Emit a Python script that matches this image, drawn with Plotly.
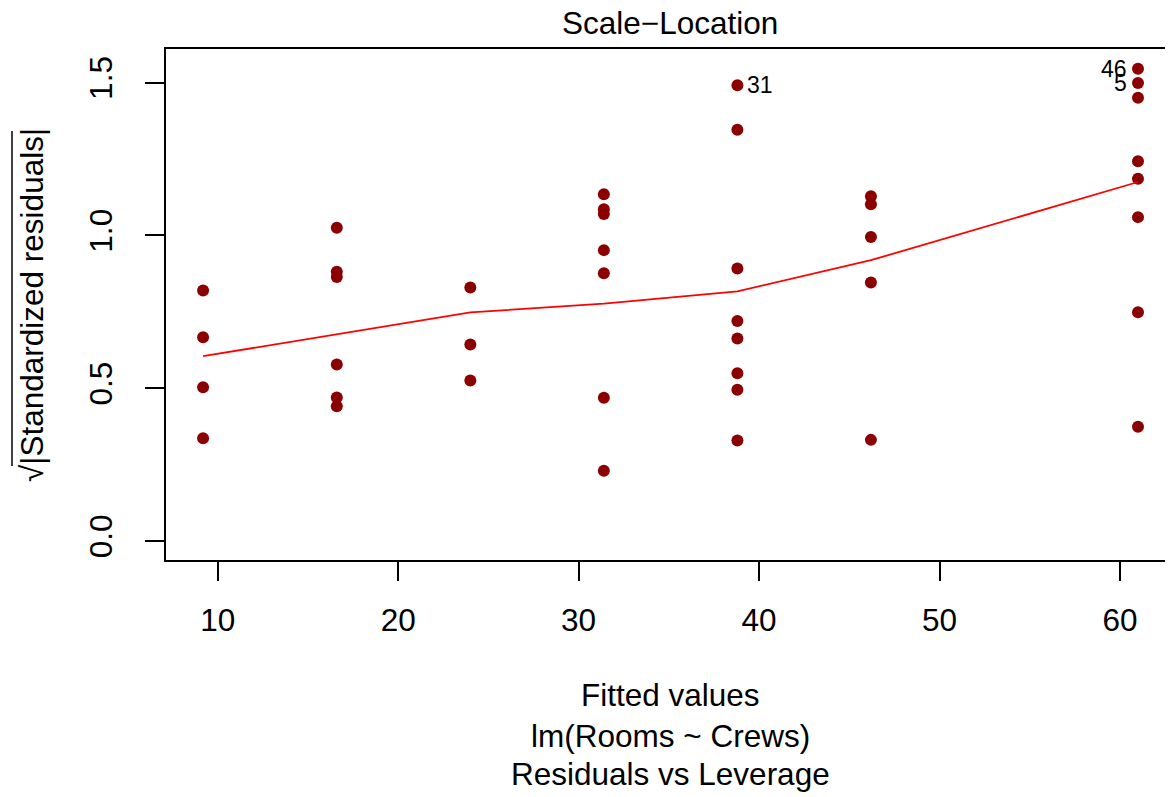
import plotly.graph_objects as go

# Fitted value levels (x) and sqrt|standardized residuals| (y) per level
fitted_levels = [9.19, 16.6, 24.0, 31.4, 38.8, 46.2, 61.0]
sqrt_resid = [
    [0.820, 0.667, 0.503, 0.336],
    [1.025, 0.881, 0.864, 0.578, 0.470, 0.441],
    [0.830, 0.643, 0.525],
    [1.135, 1.086, 1.070, 0.952, 0.876, 0.469, 0.230],
    [1.492, 1.346, 0.892, 0.720, 0.663, 0.549, 0.495, 0.329],
    [1.128, 1.102, 0.995, 0.846, 0.331],
    [1.546, 1.499, 1.451, 1.243, 1.186, 1.060, 0.749, 0.374],
]
smooth_y = [0.605, 0.676, 0.748, 0.777, 0.817, 0.919, 1.175]

# labelled points: (id, fitted, value, side)
id_labels = ["31", "46", "5"]
id_x = [38.8, 61.0, 61.0]
id_y = [1.492, 1.546, 1.499]
id_side = ["right", "left", "left"]

x_ticks = [10, 20, 30, 40, 50, 60]
y_ticks = [0.0, 0.5, 1.0, 1.5]
y_tick_text = ["0.0", "0.5", "1.0", "1.5"]

xs, ys = [], []
for fx, vals in zip(fitted_levels, sqrt_resid):
    for v in vals:
        xs.append(fx)
        ys.append(v)

FONT = "Liberation Sans, Arial, Helvetica, sans-serif"
FS = 31.5
OFF = 8  # page body margin
PAGE_W, PAGE_H = 1173, 797
PL, PT, PR, PB = 166, 49, 1173, 560  # plot box in page pixels
W, H = PAGE_W - OFF, PAGE_H - OFF
L, T = PL - OFF, PT - OFF
R = W - (PR - OFF)
B = H - (PB - OFF)

def px_x(p):
    return (p - PL) / (PR - PL)

def px_y(p):
    return (PB - p) / (PB - PT)

fig = go.Figure()
fig.add_trace(go.Scatter(x=xs, y=ys, mode="markers",
                         marker=dict(color="#8B0000", size=12, line=dict(width=0)),
                         showlegend=False, hoverinfo="x+y"))
fig.add_trace(go.Scatter(x=fitted_levels, y=smooth_y, mode="lines",
                         line=dict(color="#FF0000", width=1.8),
                         showlegend=False))

annotations = []
for lab, lx, ly, side in zip(id_labels, id_x, id_y, id_side):
    annotations.append(dict(x=lx, y=ly, xref="x", yref="y", text=lab, showarrow=False,
                            xanchor="left" if side == "right" else "right",
                            yanchor="middle",
                            xshift=8 if side == "right" else -9,
                            font=dict(size=23, color="black", family=FONT)))

annotations.append(dict(x=px_x(670), y=px_y(23), xref="paper", yref="paper",
                        text="Scale\u2212Location", showarrow=False,
                        xanchor="center", yanchor="middle",
                        font=dict(size=FS, color="black", family=FONT)))
for txt, ypx in [("Fitted values", 695), ("lm(Rooms ~ Crews)", 736),
                 ("Residuals vs Leverage", 774)]:
    annotations.append(dict(x=px_x(670), y=px_y(ypx), xref="paper", yref="paper",
                            text=txt, showarrow=False, xanchor="center", yanchor="middle",
                            font=dict(size=FS, color="black", family=FONT)))
annotations.append(dict(x=px_x(32), y=px_y(305), xref="paper", yref="paper",
                        text="\u221a|Standardized residuals|", showarrow=False,
                        textangle=-90, xanchor="center", yanchor="middle",
                        font=dict(size=FS, color="black", family=FONT)))

shapes = [
    dict(type="line", xref="paper", yref="paper",
         x0=px_x(12), x1=px_x(12), y0=px_y(131), y1=px_y(466),
         line=dict(color="black", width=1.5)),
]

fig.update_layout(
    width=W, height=H,
    margin=dict(l=L, r=R, t=T, b=B, pad=0),
    paper_bgcolor="white", plot_bgcolor="white",
    font=dict(family=FONT, color="black"),
    annotations=annotations, shapes=shapes,
    xaxis=dict(range=[7.135, 62.94], tickvals=x_ticks, ticktext=[str(t) for t in x_ticks],
               showgrid=False, zeroline=False, showline=True, linecolor="black",
               linewidth=2, mirror=True, ticks="outside", ticklen=19, tickwidth=2,
               tickcolor="black", tickfont=dict(size=FS, family=FONT, color="black"),
               ticklabelstandoff=12),
    yaxis=dict(range=[-0.0622, 1.6103], tickvals=y_ticks, ticktext=y_tick_text,
               showgrid=False, zeroline=False, showline=True, linecolor="black",
               linewidth=2, mirror=False, ticks="outside", ticklen=19, tickwidth=2,
               tickcolor="black", tickangle=-90,
               tickfont=dict(size=FS, family=FONT, color="black"),
               ticklabelstandoff=20),
)

fig.write_html("out.html")
